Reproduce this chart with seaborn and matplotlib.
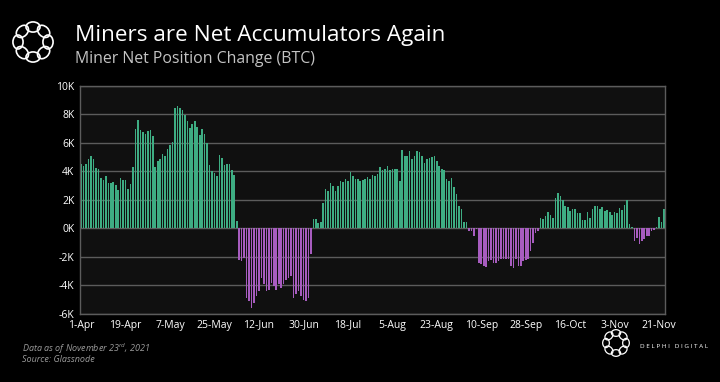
import numpy as np
import pandas as pd
import matplotlib
matplotlib.use("Agg")
import matplotlib.pyplot as plt
import seaborn as sns
from matplotlib.patches import Ellipse

# -------- DATA (miner net position change, thousands of BTC, daily from 1-Apr-2021) --------
start_date = "2021-04-01"

apr_early = [4.5, 4.4, 4.5, 4.85, 5.1, 4.9, 4.27, 4.2, 3.57, 3.4, 3.65, 3.17, 3.17, 3.25,
             3.05, 2.7, 3.57, 3.4, 3.4, 2.8, 3.1, 4.34]
apr_late = [6.98, 7.6, 6.9, 6.8, 6.6, 6.85, 6.9, 6.5]
may_early = [4.34, 4.7, 4.85, 5.2, 5.1, 5.6, 5.85, 6.1]
may_late = [8.43, 8.6, 8.45, 8.3, 7.96, 7.54, 7.03, 7.3, 7.54, 7.15, 6.56, 6.96, 6.6, 5.98,
            4.46, 4.03, 3.87, 3.68, 5.16, 4.92, 4.46, 4.5, 4.5, 4.1, 3.75, 0.53]
june = [-2.2, -2.3, -2.1, -4.9, -5.1, -5.6, -5.2, -4.75, -4.4, -3.46, -3.9, -4.4, -4.3, -3.8,
        -4.05, -4.3, -3.9, -4.15, -3.9, -3.6, -3.46, -3.35, -4.85, -4.6, -4.4, -4.75, -5.0,
        -5.1, -4.85, -1.8]
july = [0.65, 0.65, 0.37, 0.42, 1.82, 2.8, 2.64, 3.18, 3.0, 2.64, 3.0, 3.35, 3.23, 3.5, 3.35,
        3.93, 3.65, 3.5, 3.46, 3.35, 3.4, 3.46, 3.58, 3.5, 3.74, 3.7, 3.8, 4.28, 4.12, 4.16,
        4.4, 4.12, 4.2, 4.16, 4.16, 3.35]
august = [5.54, 5.1, 5.12, 5.47, 4.9, 5.12, 5.43, 5.36, 5.08, 4.6, 4.84, 4.96, 5.03, 5.08,
          4.73, 4.37, 4.14, 4.1, 3.5, 3.3, 3.55, 2.9, 2.4, 1.57, 1.38, 0.44, 0.44]
september = [-0.19, -0.19, -0.5, -0.05, -2.4, -2.5, -2.6, -2.7, -2.3, -2.2, -2.4, -2.45, -2.3,
             -2.12, -2.16, -2.12, -2.16, -2.6, -2.74, -2.16, -2.6, -2.65, -2.3, -2.2, -2.16,
             -1.58, -1.0, -0.35, -0.2]
october = [0.74, 0.67, 0.86, 1.14, 0.98, 0.74, 2.16, 2.5, 2.3, 1.98, 1.56, 1.5, 1.2, 1.37,
           1.37, 1.1, 1.1, 0.63, 0.63, 1.14, 0.74, 1.37, 1.56, 1.6, 1.37, 1.51, 1.2, 1.3,
           1.14, 0.98, 1.14, 1.1, 1.44, 1.28, 1.67, 2.0, 0.28, 0.1]
november = [-0.88, -0.65, -1.1, -0.88, -0.72, -0.53, -0.5, -0.2, -0.1, 0.1, 0.8, 0.44, 1.37]

values = (apr_early + apr_late + may_early + may_late + june + july + august
          + september + october + november)

y_ticks = [-6, -4, -2, 0, 2, 4, 6, 8, 10]
y_labels = ["-6K", "-4K", "-2K", "0K", "2K", "4K", "6K", "8K", "10K"]
tick_step = 18

green = "#2bbf87"
purple = "#b04ccf"
bg = "#000000"
panel = "#101010"
grid_c = "#5c5c5c"

dates = pd.date_range(start_date, periods=len(values), freq="D")
df = pd.DataFrame({"day": np.arange(len(values)), "btc": values})
df["side"] = np.where(df["btc"] >= 0, "pos", "neg")

# -------- PLOT --------
sns.set_theme(style="dark")
plt.rcParams["font.family"] = ["Open Sans", "DejaVu Sans"]

fig = plt.figure(figsize=(7.2, 3.82), dpi=100, facecolor=bg)
ax = fig.add_axes([0.111, 0.178, 0.813, 0.597])
ax.set_facecolor(panel)

sns.barplot(data=df, x="day", y="btc", hue="side", palette={"pos": green, "neg": purple},
            dodge=False, width=0.65, legend=False, ax=ax, linewidth=0)

ax.set_xlim(-0.5, len(values) - 0.5)
ax.set_ylim(-6, 10)
ax.set_yticks(y_ticks)
ax.set_yticklabels(y_labels)
xt = list(range(0, len(values), tick_step))
ax.set_xticks(xt)
ax.set_xticklabels([f"{dates[i].day}-{dates[i].strftime('%b')}" for i in xt])
ax.tick_params(colors="white", labelsize=7.5, length=0, pad=4)
ax.set_xlabel("")
ax.set_ylabel("")
ax.grid(axis="y", color=grid_c, linewidth=1)
ax.grid(axis="x", visible=False)
ax.set_axisbelow(True)
for s in ax.spines.values():
    s.set_visible(True)
    s.set_color(grid_c)
    s.set_linewidth(1)

# -------- TEXT --------
fig.text(0.104, 0.907, "Miners are Net Accumulators Again", color="white",
         fontsize=16.2, fontweight="medium", va="center")
fig.text(0.104, 0.846, "Miner Net Position Change (BTC)", color="#c4c4c4",
         fontsize=11.4, va="center")
fig.text(0.03, 0.088, r"Data as of November 23$^{\mathregular{rd}}$, 2021", color="#9a9a9a",
         fontsize=6.5, style="italic", va="center")
fig.text(0.03, 0.058, "Source: Glassnode", color="#9a9a9a", fontsize=6.5,
         style="italic", va="center")
fig.text(0.889, 0.092, "D E L P H I   D I G I T A L", color="white", fontsize=4.6,
         va="center")


def logo(cx, cy, r, er, lw):
    # ring of interlocking loops, in pixel units
    for k in range(8):
        a = k * np.pi / 4
        e = Ellipse((cx + r * np.cos(a), cy + r * np.sin(a)), er * 2, er * 1.45,
                    angle=np.degrees(a) + 90, fill=False, ec="white", lw=lw,
                    transform=None)
        fig.add_artist(e)


logo(33, 382 - 42, 15, 7, 1.2)
logo(616, 382 - 343, 10, 4.6, 0.9)

fig.savefig("out.png", dpi=100, facecolor=bg)
